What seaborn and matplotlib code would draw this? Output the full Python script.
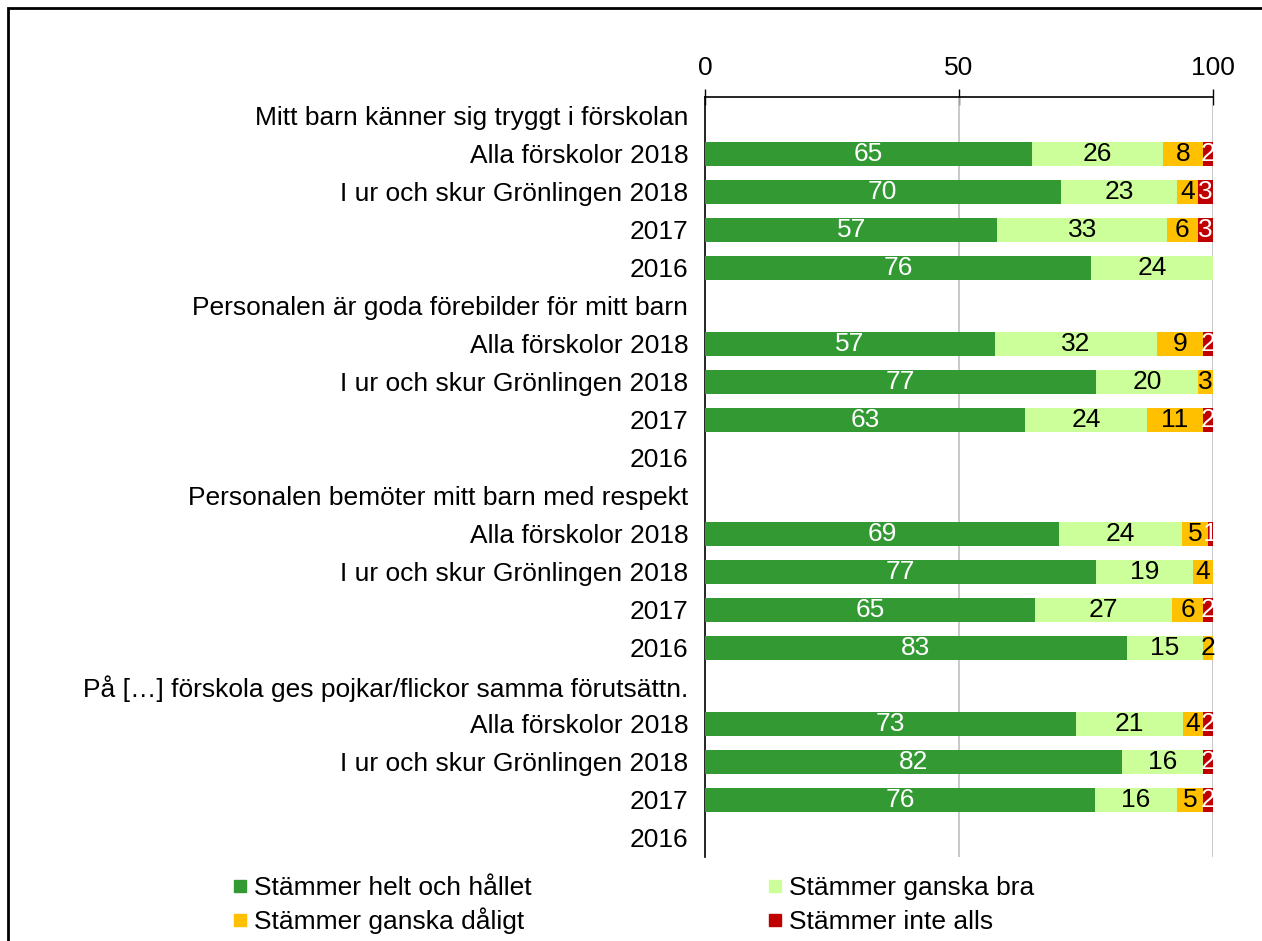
import numpy as np
import pandas as pd
import matplotlib.pyplot as plt
import seaborn as sns
from matplotlib.lines import Line2D
from matplotlib.patches import Rectangle

sns.set_theme(style="white")
plt.rcParams['font.family'] = ['Liberation Sans', 'DejaVu Sans']
plt.rcParams['text.color'] = 'black'
plt.rcParams['xtick.color'] = 'black'
plt.rcParams['ytick.color'] = 'black'

# row labels, top to bottom (header rows have no bars)
row_labels = [
    "Mitt barn känner sig tryggt i förskolan",
    "Alla förskolor 2018", "I ur och skur Grönlingen 2018", "2017", "2016",
    "Personalen är goda förebilder för mitt barn",
    "Alla förskolor 2018", "I ur och skur Grönlingen 2018", "2017", "2016",
    "Personalen bemöter mitt barn med respekt",
    "Alla förskolor 2018", "I ur och skur Grönlingen 2018", "2017", "2016",
    "På […] förskola ges pojkar/flickor samma förutsättn.",
    "Alla förskolor 2018", "I ur och skur Grönlingen 2018", "2017", "2016",
]

nan = np.nan
helt = [nan, 65, 70, 57, 76, nan, 57, 77, 63, nan, nan, 69, 77, 65, 83, nan, 73, 82, 76, nan]
ganska_bra = [nan, 26, 23, 33, 24, nan, 32, 20, 24, nan, nan, 24, 19, 27, 15, nan, 21, 16, 16, nan]
ganska_daligt = [nan, 8, 4, 6, 0, nan, 9, 3, 11, nan, nan, 5, 4, 6, 2, nan, 4, 0, 5, nan]
inte_alls = [nan, 2, 3, 3, 0, nan, 2, 0, 2, nan, nan, 1, 0, 2, 0, nan, 2, 2, 2, nan]

series_names = ["Stämmer helt och hållet", "Stämmer ganska bra",
                "Stämmer ganska dåligt", "Stämmer inte alls"]
colors = ["#339933", "#CCFF99", "#FFC000", "#C00000"]
text_colors = ["white", "black", "black", "white"]

df = pd.DataFrame({
    "row": np.arange(len(row_labels)),
    series_names[0]: helt,
    series_names[1]: ganska_bra,
    series_names[2]: ganska_daligt,
    series_names[3]: inte_alls,
})
# labels are rounded, so scale each row to a full 100 % for the bar lengths
shares = df[series_names].div(df[series_names].sum(axis=1), axis=0) * 100
cum = shares.cumsum(axis=1)

FS = 19
fig = plt.figure(figsize=(12.62, 9.41), dpi=100)
W, H = 1262, 941
ax = fig.add_axes([705 / W, 1 - 857 / H, (1213 - 705) / W, (857 - 97) / H])

# stacked bars: draw cumulative totals, widest first
for name, col in reversed(list(zip(series_names, colors))):
    sns.barplot(x=cum[name], y=df["row"], orient="h", color=col, width=0.63,
                linewidth=0, saturation=1, ax=ax, zorder=3)

# segment labels
for i in range(len(df)):
    left = 0
    for name, tc in zip(series_names, text_colors):
        v = df.loc[i, name]
        w = shares.loc[i, name]
        if pd.notna(v) and v > 0:
            ax.text(left + w / 2, i, f"{v:.0f}", ha="center", va="center",
                    color=tc, fontsize=FS, zorder=5)
        if pd.notna(w):
            left += w

ax.set_xlim(0, 100)
ax.set_ylim(len(row_labels) - 0.5, -0.5)
ax.set_xlabel("")
ax.set_ylabel("")

ax.xaxis.tick_top()
ax.set_xticks([0, 50, 100])
ax.tick_params(axis="x", which="major", direction="inout", length=12, width=1,
               labelsize=FS, pad=6, color="black")
for x in [50, 100]:
    ax.axvline(x, color="#BFBFBF", lw=1.2, zorder=1)

ax.set_yticks(np.arange(len(row_labels)))
ax.set_yticklabels(row_labels)
ax.set_yticks(np.arange(len(row_labels)) + 0.5, minor=True)
ax.tick_params(axis="y", which="major", length=0, labelsize=FS, pad=12)
ax.tick_params(axis="y", which="minor", direction="out", length=8, width=1, color="black")

for s in ["right", "bottom"]:
    ax.spines[s].set_visible(False)
for s in ["top", "left"]:
    ax.spines[s].set_color("black")
    ax.spines[s].set_linewidth(1.2)

# legend: 2x2 grid, one entry per anchor so baselines line up
legend_pos = [(233, 900), (768, 900), (233, 934), (768, 934)]
for name, col, (lx, ly) in zip(series_names, colors, legend_pos):
    h = Line2D([], [], marker="s", linestyle="none", markersize=9,
               markerfacecolor=col, markeredgecolor=col)
    fig.legend([h], [name], loc="lower left", bbox_to_anchor=(lx / W, 1 - ly / H),
               frameon=False, fontsize=FS, handlelength=0.5, handletextpad=0.3,
               borderpad=0, borderaxespad=0)

# outer frame (extends beyond the image on the right and bottom)
fig.patches.append(Rectangle((8 / W, -0.1), 1.2, 1.1 - 8 / H, transform=fig.transFigure,
                             fill=False, edgecolor="black", lw=2, clip_on=False))

fig.savefig("out.png", dpi=100)
